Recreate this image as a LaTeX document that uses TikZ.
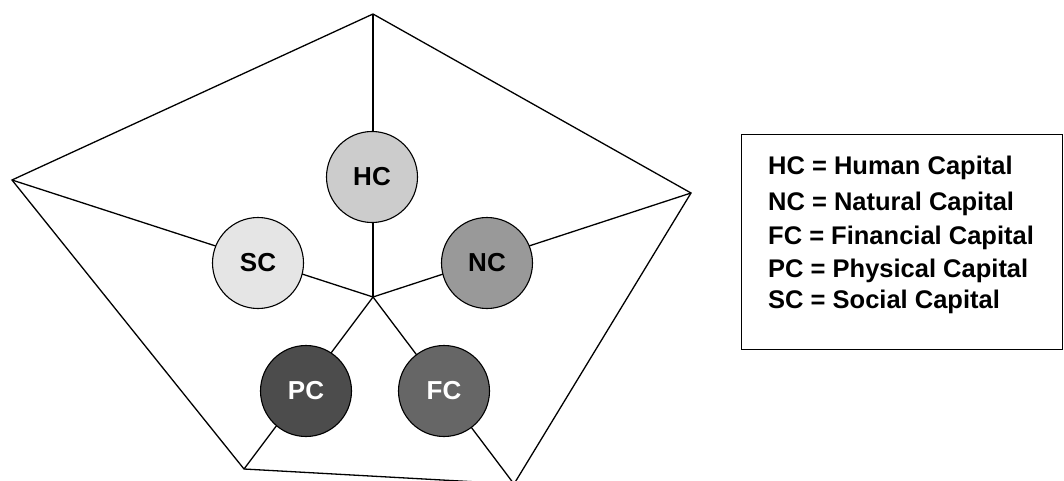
\documentclass[tikz,border=0pt]{standalone}
\usepackage{fontspec}
\setmainfont{Liberation Sans}
\begin{document}
\begin{tikzpicture}[x=1pt,y=-1pt,
  edge/.style={draw=black,line width=1.3pt,line join=miter},
  capital/.style={circle,draw=black,line width=1.1pt,minimum size=91pt,inner sep=0pt,
    font=\fontsize{26}{30}\selectfont\bfseries},
  legendbox/.style={draw=black,line width=1.3pt,minimum width=321pt,minimum height=215pt,
    inner sep=0pt,anchor=north west},
  legendtext/.style={anchor=west,font=\fontsize{25.5}{30}\selectfont\bfseries,inner sep=0pt}]
  \useasboundingbox (0,0) rectangle (1064,481);

  % pentagon corners and hub
  \coordinate (T)  at (373,14);
  \coordinate (L)  at (12,180);
  \coordinate (R)  at (691,193);
  \coordinate (BL) at (244,469);
  \coordinate (BR) at (514,484);
  \coordinate (O)  at (373,297);

  % outline and spokes
  \draw[edge] (T) -- (R) -- (BR) -- (BL) -- (L) -- cycle;
  \draw[edge] (O) -- (T);
  \draw[edge] (O) -- (L);
  \draw[edge] (O) -- (R);
  \draw[edge] (O) -- (BL);
  \draw[edge] (O) -- (BR);

  % capitals
  \node[capital,fill=black!20] (HC) at (372,177) {HC};
  \node[capital,fill=black!10] (SC) at (258,263) {SC};
  \node[capital,fill=black!40] (NC) at (487,263) {NC};
  \node[capital,fill=black!70,text=white] (PC) at (306,391) {PC};
  \node[capital,fill=black!60,text=white] (FC) at (444,391) {FC};

  % legend
  \node[legendbox] (key) at (741,134) {};
  \node[legendtext] (k1) at (768,168) {HC = Human Capital};
  \node[legendtext] (k2) at (768,204) {NC = Natural Capital};
  \node[legendtext] (k3) at (768,238) {FC = Financial Capital};
  \node[legendtext] (k4) at (768,271) {PC = Physical Capital};
  \node[legendtext] (k5) at (768,302) {SC = Social Capital};
\end{tikzpicture}
\end{document}
